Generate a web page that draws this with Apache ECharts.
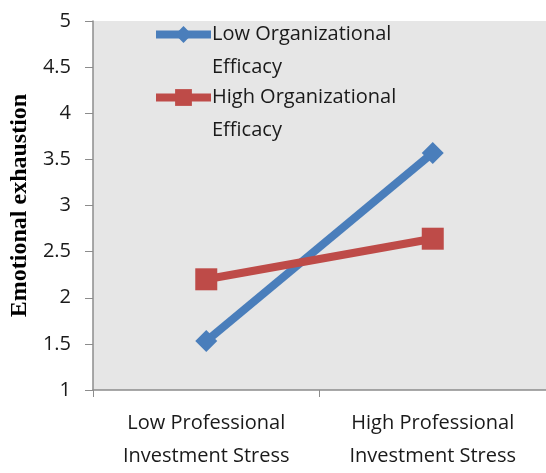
<!DOCTYPE html>
<html>
<head>
    <meta charset="UTF-8">
    <title>Emotional exhaustion</title>
    <script src="https://cdn.jsdelivr.net/npm/echarts@6/dist/echarts.min.js"></script>
    <style>
        body { margin: 0; background: #fff; }
        #chart { width: 546px; height: 473px; }
    </style>
</head>
<body>
    <div id="chart"></div>
    <script>
    // data
    const categories = ['Low Professional\nInvestment Stress', 'High Professional\nInvestment Stress'];
    const lowEfficacy = [1.53, 3.57];
    const highEfficacy = [2.2, 2.64];
    const seriesNames = ['Low Organizational Efficacy', 'High Organizational Efficacy'];
    const legendLabels = ['\nLow Organizational\nEfficacy', '\nHigh Organizational\nEfficacy'];

    const font = '"Open Sans", sans-serif';
    const chart = echarts.init(document.getElementById('chart'));

    // one legend per series so the icon sits on the first text line
    function legendFor(i, top) {
        return {
            data: [seriesNames[i]],
            left: 152,
            top: top,
            padding: 0,
            itemWidth: 55,
            itemHeight: 21,
            itemGap: 0,
            lineStyle: { width: 8 },
            formatter: function () { return legendLabels[i]; },
            textStyle: { fontFamily: font, fontSize: 20, color: '#1a1a1a', lineHeight: 33, padding: [0, 0, 0, -4] }
        };
    }

    chart.setOption({
        animation: false,
        backgroundColor: '#fff',
        legend: [legendFor(0, -15), legendFor(1, 48)],
        grid: {
            left: 88, right: -4, top: 21, bottom: 77,
            show: true, backgroundColor: '#e6e6e6', borderWidth: 0
        },
        xAxis: {
            type: 'category',
            data: categories,
            boundaryGap: true,
            axisLine: { lineStyle: { color: '#8c8c8c', width: 1.5 } },
            axisTick: { show: true, length: 7, lineStyle: { color: '#8c8c8c' } },
            axisLabel: { fontFamily: font, fontSize: 20, color: '#1a1a1a', lineHeight: 33, margin: 17 }
        },
        yAxis: {
            type: 'value',
            min: 1, max: 5, interval: 0.5,
            name: 'Emotional exhaustion',
            nameLocation: 'middle',
            nameRotate: 90,
            nameGap: 60,
            nameTextStyle: { fontFamily: '"Liberation Serif", serif', fontWeight: 'bold', fontSize: 24, color: '#000' },
            axisLine: { show: true, lineStyle: { color: '#8c8c8c', width: 1.5 } },
            axisTick: { show: true, length: 8, lineStyle: { color: '#8c8c8c' } },
            splitLine: { show: false },
            axisLabel: { fontFamily: font, fontSize: 20, color: '#1a1a1a', margin: 22 }
        },
        series: [
            {
                name: seriesNames[0],
                type: 'line',
                data: lowEfficacy,
                symbol: 'diamond',
                symbolSize: 22,
                lineStyle: { color: '#4a7ebb', width: 8 },
                itemStyle: { color: '#4a7ebb' }
            },
            {
                name: seriesNames[1],
                type: 'line',
                data: highEfficacy,
                symbol: 'rect',
                symbolSize: 22,
                lineStyle: { color: '#be4b48', width: 8 },
                itemStyle: { color: '#be4b48' }
            }
        ]
    });
    </script>
</body>
</html>
